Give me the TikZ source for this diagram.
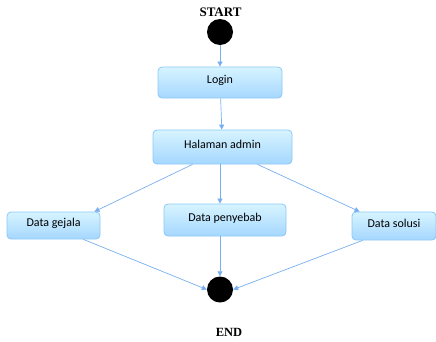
\documentclass[tikz,border=0pt]{standalone}
\usepackage{fontspec}
\setmainfont{Carlito}
\newfontfamily\titlefont{Liberation Serif}
\usetikzlibrary{arrows.meta}
\definecolor{edgeblue}{RGB}{120,175,240}
\definecolor{boxtop}{RGB}{215,244,255}
\definecolor{boxbot}{RGB}{165,215,255}
\definecolor{boxline}{RGB}{140,200,245}
\tikzset{
  actbox/.style={draw=boxline, line width=0.8pt, rounded corners=4pt, top color=boxtop, bottom color=boxbot, font=\fontsize{12}{14}\selectfont, inner sep=0pt, text height=9pt, text depth=7pt},
  dot/.style={circle, fill=black, minimum size=26pt, inner sep=0pt},
  lbl/.style={font=\titlefont\bfseries\fontsize{13}{15}\selectfont, text=black},
  flow/.style={draw=edgeblue, line width=0.7pt, -{Triangle[length=5pt,width=5pt]}}
}
\begin{document}
\begin{tikzpicture}[x=1pt,y=-1pt]
\useasboundingbox (0,0) rectangle (436,341);
\node[lbl] (st) at (220.5,12.5) {START};
\node[dot] (s) at (220,32) {};
\node[actbox, minimum width=124pt, minimum height=31pt] (login) at (220,82.5) {Login};
\node[actbox, minimum width=139pt, minimum height=34pt] (adm) at (222.5,147) {Halaman admin};
\node[actbox, minimum width=93pt, minimum height=27pt] (gej) at (53.5,225.5) {Data gejala};
\node[actbox, minimum width=122pt, minimum height=32pt] (pen) at (225,220) {Data penyebab};
\node[actbox, minimum width=84pt, minimum height=28pt] (sol) at (394,226) {Data solusi};
\node[dot] (e) at (220,289.5) {};
\node[lbl, font=\titlefont\bfseries\fontsize{12.5}{15}\selectfont] (en) at (229,332) {END};
\draw[flow] (s) -- (login);
\draw[flow] (login) -- (adm);
\draw[flow] ([xshift=-30pt]adm.south) -- ([xshift=-6pt]gej.north east);
\draw[flow] ([xshift=-2.5pt]adm.south) -- ([xshift=-5pt]pen.north);
\draw[flow] ([xshift=35pt]adm.south) -- ([xshift=8pt]sol.north west);
\draw[flow] ([xshift=-17pt]gej.south east) -- (e.west);
\draw[flow] ([xshift=-5pt]pen.south) -- (e.north);
\draw[flow] ([xshift=11pt]sol.south west) -- (e.east);
\end{tikzpicture}
\end{document}
